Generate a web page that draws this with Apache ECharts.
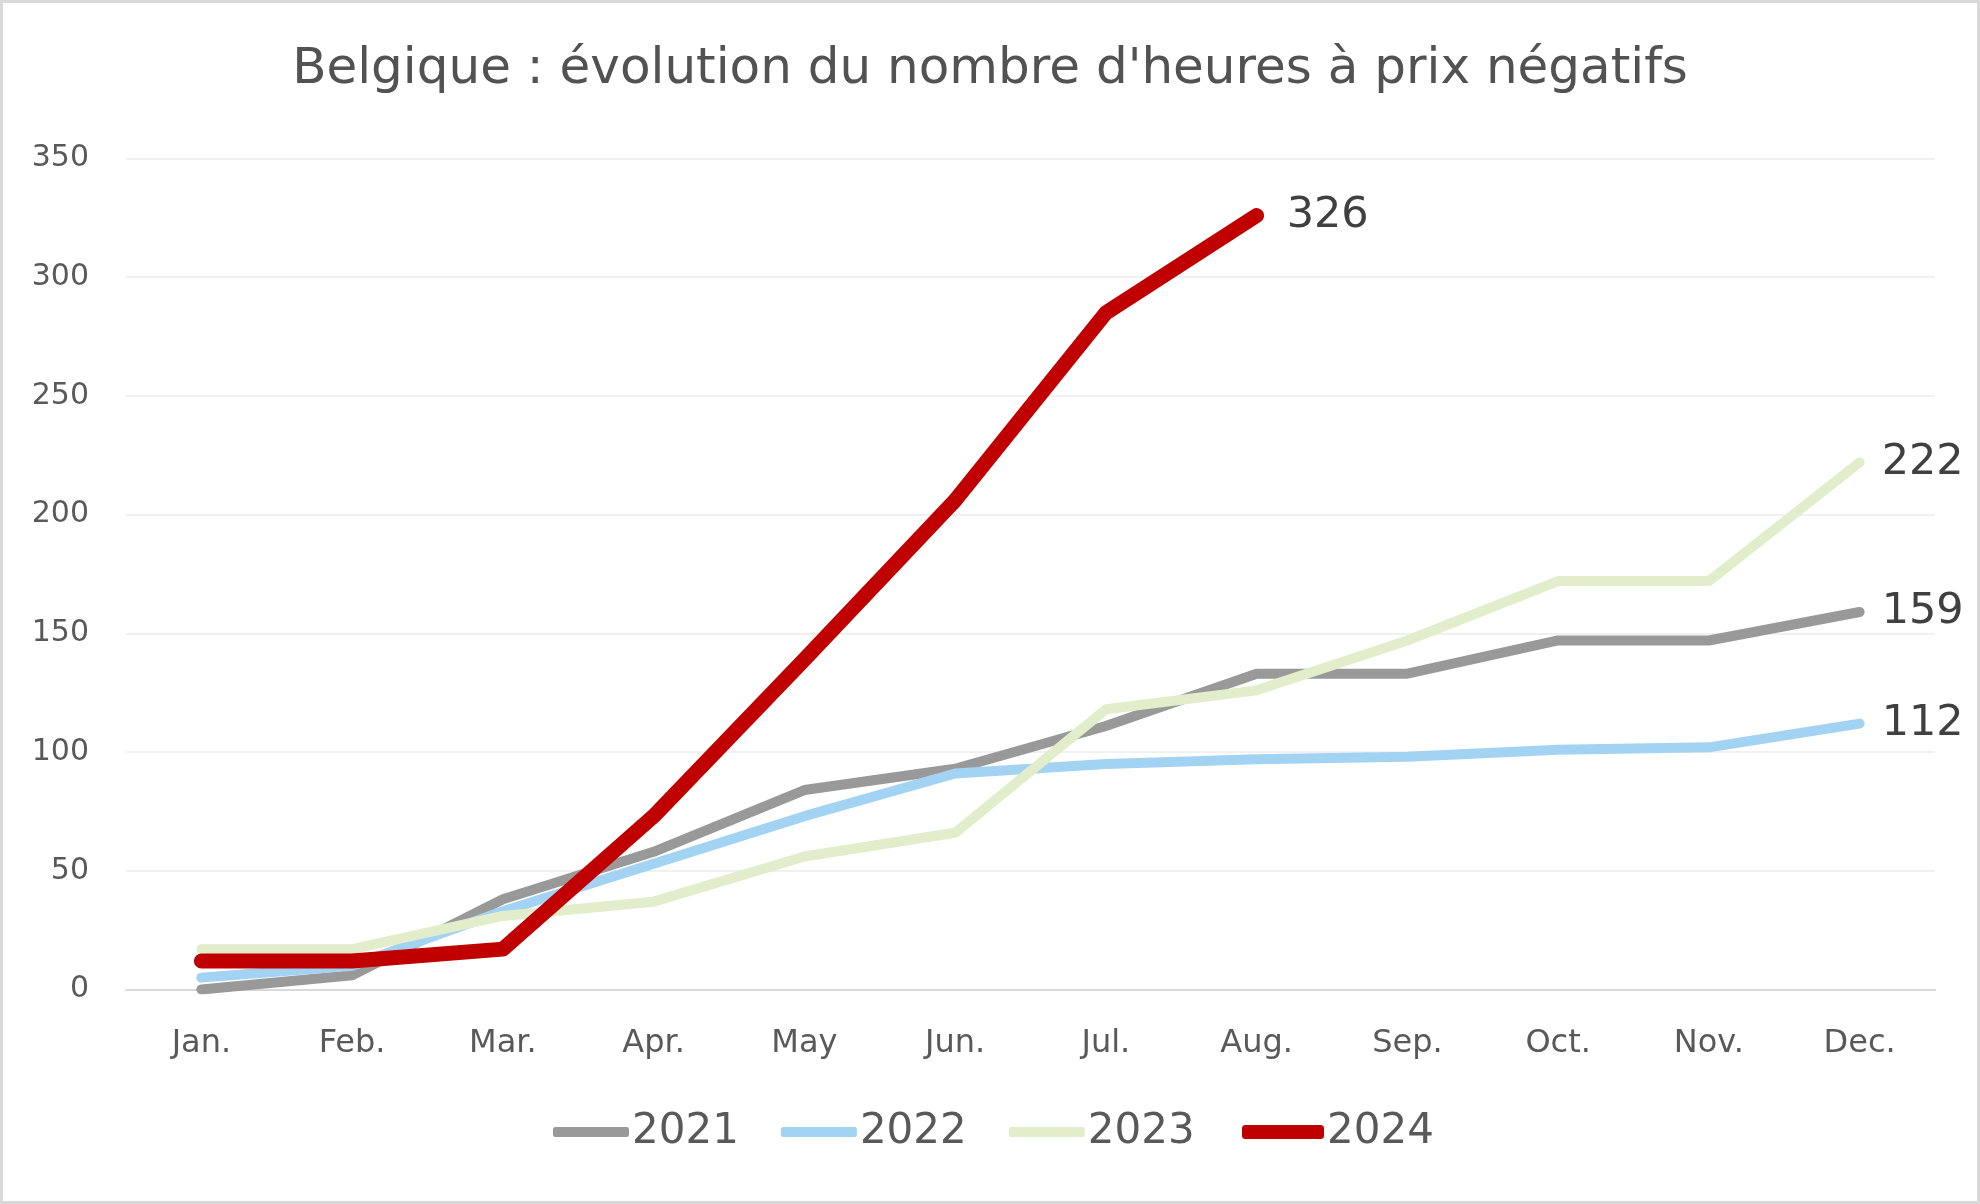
<!DOCTYPE html>
<html>
<head>
<meta charset="utf-8">
<script src="https://cdn.jsdelivr.net/npm/echarts@6/dist/echarts.min.js"></script>
<style>
  html, body { margin: 0; padding: 0; background: #fff; }
  #chart { width: 1980px; height: 1204px; box-sizing: border-box; border: 3px solid #d9d9d9; }
</style>
</head>
<body>
<div id="chart"></div>
<script>
const months = ['Jan.', 'Feb.', 'Mar.', 'Apr.', 'May', 'Jun.', 'Jul.', 'Aug.', 'Sep.', 'Oct.', 'Nov.', 'Dec.'];
const s2021 = [0, 6, 38, 58, 84, 93, 111, 133, 133, 147, 147, 159];
const s2022 = [5, 10, 33, 53, 73, 91, 95, 97, 98, 101, 102, 112];
const s2023 = [17, 17, 31, 37, 56, 66, 118, 126, 147, 172, 172, 222];
const s2024 = [12, 12, 17, 73, 139, 206, 285, 326];
const yTicks = [0, 50, 100, 150, 200, 250, 300, 350];

const FONT = 'DejaVu Sans';
const chart = echarts.init(document.getElementById('chart'), null, { renderer: 'canvas' });

function line(name, data, color, width, z, dist) {
  return {
    name: name,
    type: 'line',
    data: data,
    z: z,
    symbol: 'none',
    showSymbol: false,
    lineStyle: { color: color, width: width, cap: 'round', join: 'round' },
    itemStyle: { color: color },
    emphasis: { disabled: true },
    endLabel: {
      show: true,
      formatter: '{c}',
      distance: dist,
      color: '#404040',
      fontFamily: FONT,
      fontSize: 43
    }
  };
}

chart.setOption({
  animation: false,
  backgroundColor: '#ffffff',
  title: {
    text: "Belgique : évolution du nombre d'heures à prix négatifs",
    left: 'center',
    top: 37,
    textStyle: { fontFamily: FONT, fontSize: 50, fontWeight: 'normal', color: '#525252' }
  },
  grid: { left: 123, right: 42, top: 155.5, bottom: 211.5, containLabel: false },
  legend: [
    {
      data: ['2021', '2022', '2023'],
      left: 545,
      top: 1103,
      icon: 'roundRect',
      itemWidth: 76,
      itemHeight: 10,
      itemGap: 42,
      textStyle: { fontFamily: FONT, fontSize: 42, color: '#595959', padding: [0, 0, 0, -2] }
    },
    {
      data: ['2024'],
      left: 1234,
      top: 1103,
      icon: 'roundRect',
      itemWidth: 82,
      itemHeight: 14,
      textStyle: { fontFamily: FONT, fontSize: 42, color: '#595959', padding: [0, 0, 0, -2] }
    }
  ],
  xAxis: {
    type: 'category',
    data: months,
    boundaryGap: true,
    axisLine: { show: true, lineStyle: { color: '#d9d9d9', width: 2 } },
    axisTick: { show: false },
    axisLabel: { fontFamily: FONT, fontSize: 32, color: '#595959', margin: 38 }
  },
  yAxis: {
    type: 'value',
    min: yTicks[0],
    max: yTicks[yTicks.length - 1],
    interval: 50,
    axisLine: { show: false },
    axisTick: { show: false },
    splitLine: { lineStyle: { color: '#f0f0f0', width: 2 } },
    axisLabel: { fontFamily: FONT, fontSize: 30, color: '#595959', margin: 37, padding: [0, 0, 10, 0] }
  },
  series: [
    line('2021', s2021, '#999999', 10, 2, 22),
    line('2022', s2022, '#a3d3f2', 10, 3, 22),
    line('2023', s2023, '#e2edcb', 10, 4, 22),
    line('2024', s2024, '#c00000', 15, 5, 30)
  ]
});
</script>
</body>
</html>
